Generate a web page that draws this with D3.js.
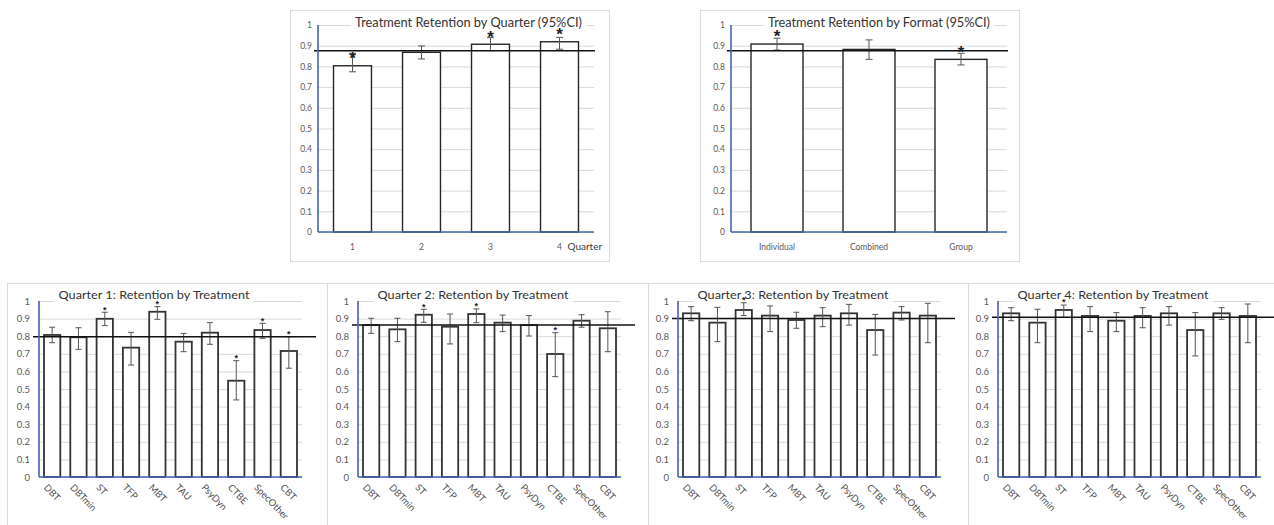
<!DOCTYPE html>
<html>
<head>
<meta charset="utf-8">
<script src="https://cdn.jsdelivr.net/npm/d3@7"></script>
<style>
  body { margin: 0; background: #fff; }
  svg { display: block; font-family: Lato, "Open Sans", sans-serif; }
</style>
</head>
<body>
<div id="chart"></div>
<script>
// values (retention proportion, 95% CI)
var yTickValues = [0, 0.1, 0.2, 0.3, 0.4, 0.5, 0.6, 0.7, 0.8, 0.9, 1];
var yTickLabels = ["0", "0.1", "0.2", "0.3", "0.4", "0.5", "0.6", "0.7", "0.8", "0.9", "1"];

var quarterCats = ["1", "2", "3", "4"];
var quarterVals = [0.803, 0.868, 0.907, 0.919];
var quarterLo   = [0.774, 0.836, 0.876, 0.883];
var quarterHi   = [0.863, 0.899, 0.939, 0.940];
var quarterSig  = [1, 0, 1, 1];
var quarterRef  = 0.876;

var formatCats = ["Individual", "Combined", "Group"];
var formatVals = [0.908, 0.882, 0.834];
var formatLo   = [0.879, 0.834, 0.807];
var formatHi   = [0.936, 0.928, 0.863];
var formatSig  = [1, 0, 1];
var formatRef  = 0.876;

var treatments = ["DBT", "DBTmin", "ST", "TFP", "MBT", "TAU", "PsyDyn", "CTBE", "SpecOther", "CBT"];

var q1Vals = [0.807, 0.794, 0.899, 0.735, 0.939, 0.769, 0.820, 0.547, 0.835, 0.716];
var q1Lo   = [0.763, 0.725, 0.860, 0.636, 0.896, 0.712, 0.754, 0.438, 0.788, 0.618];
var q1Hi   = [0.851, 0.848, 0.936, 0.822, 0.968, 0.816, 0.877, 0.661, 0.873, 0.797];
var q1Sig  = [0, 0, 1, 0, 1, 0, 0, 1, 1, 1];
var q1Ref  = 0.797;

var q2Vals = [0.863, 0.839, 0.922, 0.854, 0.926, 0.877, 0.863, 0.699, 0.888, 0.845];
var q2Lo   = [0.816, 0.769, 0.879, 0.756, 0.877, 0.826, 0.801, 0.570, 0.851, 0.712];
var q2Hi   = [0.902, 0.902, 0.953, 0.926, 0.955, 0.920, 0.917, 0.820, 0.922, 0.939];
var q2Sig  = [0, 0, 1, 0, 1, 0, 0, 1, 0, 0];
var q2Ref  = 0.863;

var q3Vals = [0.930, 0.877, 0.949, 0.917, 0.892, 0.917, 0.930, 0.835, 0.934, 0.917];
var q3Lo   = [0.888, 0.769, 0.917, 0.826, 0.845, 0.854, 0.863, 0.693, 0.892, 0.763];
var q3Hi   = [0.968, 0.964, 0.990, 0.972, 0.936, 0.962, 0.981, 0.924, 0.968, 0.987];
var q3Sig  = [0, 0, 1, 0, 0, 0, 0, 0, 0, 0];
var q3Ref  = 0.900;

var q4Vals = [0.930, 0.877, 0.949, 0.915, 0.888, 0.915, 0.930, 0.835, 0.930, 0.915];
var q4Lo   = [0.888, 0.763, 0.907, 0.826, 0.826, 0.848, 0.863, 0.688, 0.896, 0.763];
var q4Hi   = [0.962, 0.953, 0.977, 0.968, 0.934, 0.962, 0.968, 0.934, 0.962, 0.983];
var q4Sig  = [0, 0, 1, 0, 0, 0, 0, 0, 0, 0];
var q4Ref  = 0.907;

var W = 1274, H = 525;
var axisBlue = "#4564b0";
var gridCol = "#d9d9d9";
var labelCol = "#595959";

var svg = d3.select("#chart").append("svg")
    .attr("width", W)
    .attr("height", H);

// panel frames first so no later panel covers an earlier one's marks
var frames = svg.append("g");

function panel(o) {
    var n = o.cats.length;
    var data = o.cats.map(function (c, i) {
        return { cat: c, v: o.vals[i], lo: o.lo[i], hi: o.hi[i], sig: o.sig[i] };
    });

    frames.append("rect")
        .attr("x", o.box[0] + 0.5).attr("y", o.box[1] + 0.5)
        .attr("width", o.box[2]).attr("height", o.box[3])
        .attr("fill", "#fff")
        .attr("stroke", "#dcdcdc");

    var g = svg.append("g");

    var x = d3.scaleBand().domain(o.cats)
        .range([o.left, o.right])
        .paddingInner(o.pad).paddingOuter(o.pad / 2);
    var y = d3.scaleLinear().domain([0, 1]).range([o.bottom, o.top]);

    // gridlines
    g.append("g")
        .attr("transform", "translate(" + o.left + ",0)")
        .call(d3.axisLeft(y).tickValues(yTickValues).tickSize(-(o.right - o.left)).tickFormat(""))
        .call(function (s) { s.select(".domain").remove(); s.selectAll("text").remove(); })
        .selectAll("line").attr("stroke", gridCol);

    // title with a white patch that hides the top gridline
    g.append("rect")
        .attr("x", o.left + o.titleDx - 4)
        .attr("y", o.titleY - o.titleSize)
        .attr("width", o.titleLen + 8)
        .attr("height", o.titleSize + 4)
        .attr("fill", "#fff");
    g.append("text")
        .attr("x", o.left + o.titleDx)
        .attr("y", o.titleY)
        .attr("font-size", o.titleSize)
        .attr("fill", "#333")
        .attr("textLength", o.titleLen)
        .attr("lengthAdjust", "spacingAndGlyphs")
        .text(o.title);

    // bars
    g.selectAll(".bar").data(data).enter().append("rect")
        .attr("class", "bar")
        .attr("x", function (d) { return x(d.cat); })
        .attr("y", function (d) { return y(d.v); })
        .attr("width", x.bandwidth())
        .attr("height", function (d) { return y(0) - y(d.v); })
        .attr("fill", "#fff")
        .attr("stroke", o.barStroke)
        .attr("stroke-width", o.barWidth);

    // error bars
    var cx = function (d) { return x(d.cat) + x.bandwidth() / 2; };
    var eb = g.selectAll(".err").data(data).enter().append("g").attr("class", "err")
        .attr("stroke", "#555").attr("stroke-width", 1);
    eb.append("line")
        .attr("x1", cx).attr("x2", cx)
        .attr("y1", function (d) { return y(d.lo); })
        .attr("y2", function (d) { return y(d.hi); });
    eb.append("line")
        .attr("x1", function (d) { return cx(d) - o.cap; })
        .attr("x2", function (d) { return cx(d) + o.cap; })
        .attr("y1", function (d) { return y(d.hi); })
        .attr("y2", function (d) { return y(d.hi); });
    eb.append("line")
        .attr("x1", function (d) { return cx(d) - o.cap; })
        .attr("x2", function (d) { return cx(d) + o.cap; })
        .attr("y1", function (d) { return y(d.lo); })
        .attr("y2", function (d) { return y(d.lo); });

    // overall reference line
    g.append("line")
        .attr("x1", o.left - o.refLeft).attr("x2", o.right + o.refRight)
        .attr("y1", y(o.ref)).attr("y2", y(o.ref))
        .attr("stroke", "#111").attr("stroke-width", 1.5);

    // blue axes
    g.append("line")
        .attr("x1", o.left).attr("x2", o.left)
        .attr("y1", y(0)).attr("y2", y(1))
        .attr("stroke", axisBlue).attr("stroke-width", 1.6);
    g.append("line")
        .attr("x1", o.left).attr("x2", o.right)
        .attr("y1", y(0)).attr("y2", y(0))
        .attr("stroke", axisBlue).attr("stroke-width", 1.6);

    // y tick labels
    g.append("g")
        .attr("transform", "translate(" + (o.left - o.yGap) + ",0)")
        .call(d3.axisLeft(y).tickValues(yTickValues).tickSize(0).tickPadding(0)
            .tickFormat(function (d, i) { return yTickLabels[i]; }))
        .call(function (s) { s.select(".domain").remove(); })
        .selectAll("text")
        .attr("fill", labelCol)
        .attr("font-size", o.yTickSize)
        .attr("font-family", "Lato, sans-serif");

    // x tick labels
    var xa = g.append("g")
        .attr("transform", "translate(0," + y(0) + ")")
        .call(d3.axisBottom(x).tickSize(0).tickPadding(0));
    xa.select(".domain").remove();
    var xt = xa.selectAll("text")
        .attr("fill", o.rotate ? "#4d4d4d" : labelCol)
        .attr("font-size", o.xTickSize)
        .attr("font-family", "Lato, sans-serif");
    if (o.rotate) {
        xt.attr("y", null).attr("dy", null)
            .attr("text-anchor", "start")
            .attr("transform", "translate(-9,11) rotate(46)");
    } else {
        xt.attr("y", o.xLabelDy).attr("dy", null);
    }

    if (o.axisTitle) {
        g.append("text")
            .attr("x", x(o.cats[n - 1]) + x.bandwidth() / 2 + 8)
            .attr("y", y(0) + o.xLabelDy)
            .attr("font-size", 10)
            .attr("fill", "#404040")
            .text(o.axisTitle);
    }

    // significance asterisks
    g.selectAll(".sig").data(data.filter(function (d) { return d.sig; })).enter().append("text")
        .attr("class", "sig")
        .attr("x", cx)
        .attr("y", function (d) {
            var c = o.sigFromBar ? y(d.v) - 11 : y(d.hi) - 4.5;
            return c + 0.55 * o.sigSize;
        })
        .attr("text-anchor", "middle")
        .attr("font-family", "'Liberation Sans', Arial, sans-serif")
        .attr("font-weight", "bold")
        .attr("font-size", o.sigSize)
        .attr("fill", "#222")
        .text("*");
}

var topOpts = {
    top: 25, bottom: 232, pad: 0.45, barStroke: "#262626", barWidth: 1.4, cap: 3.5,
    refLeft: 4, refRight: 1, yGap: 6, yTickSize: 8.5, xTickSize: 8.5, xLabelDy: 18,
    titleDx: 37, titleY: 27, titleSize: 13, sigSize: 17, sigFromBar: true
};
var botOpts = {
    top: 301, bottom: 477, pad: 0.38, barStroke: "#333", barWidth: 1.8, cap: 3,
    refLeft: 6, refRight: 14, yGap: 9, yTickSize: 9.5, xTickSize: 9.5, rotate: true,
    titleDx: 19.5, titleY: 299, titleSize: 12, titleLen: 191, sigSize: 9, sigFromBar: false
};

panel(Object.assign({}, topOpts, {
    box: [290, 10, 319, 251], left: 318, right: 594,
    cats: quarterCats, vals: quarterVals, lo: quarterLo, hi: quarterHi, sig: quarterSig, ref: quarterRef,
    title: "Treatment Retention by Quarter (95%CI)", titleLen: 227, axisTitle: "Quarter"
}));
panel(Object.assign({}, topOpts, {
    box: [700, 10, 319, 251], left: 731, right: 1007, pad: 0.435,
    cats: formatCats, vals: formatVals, lo: formatLo, hi: formatHi, sig: formatSig, ref: formatRef,
    title: "Treatment Retention by Format (95%CI)", titleLen: 222
}));

var quarters = [
    { vals: q1Vals, lo: q1Lo, hi: q1Hi, sig: q1Sig, ref: q1Ref, left: 39, boxX: 7, boxW: 320 },
    { vals: q2Vals, lo: q2Lo, hi: q2Hi, sig: q2Sig, ref: q2Ref, left: 358, boxX: 327, boxW: 321 },
    { vals: q3Vals, lo: q3Lo, hi: q3Hi, sig: q3Sig, ref: q3Ref, left: 678, boxX: 648, boxW: 320 },
    { vals: q4Vals, lo: q4Lo, hi: q4Hi, sig: q4Sig, ref: q4Ref, left: 998, boxX: 968, boxW: 330 }
];
quarters.forEach(function (q, i) {
    panel(Object.assign({}, botOpts, {
        box: [q.boxX, 283, q.boxW, 260], left: q.left, right: q.left + 263,
        cats: treatments, vals: q.vals, lo: q.lo, hi: q.hi, sig: q.sig, ref: q.ref,
        title: "Quarter " + (i + 1) + ": Retention by Treatment"
    }));
});
</script>
</body>
</html>
